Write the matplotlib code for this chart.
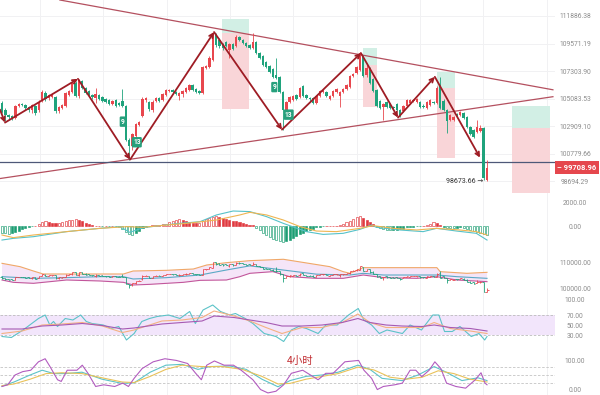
import matplotlib
matplotlib.use("Agg")
import matplotlib.pyplot as plt
import numpy as np
from matplotlib.patches import Rectangle
from matplotlib.ticker import FixedLocator, NullLocator, NullFormatter
import matplotlib.transforms as mtransforms

plt.rcParams["font.family"] = ["Roboto", "DejaVu Sans"]

# ---- 4h candles (price) ----
OPEN = [104750, 104200, 103800, 103730, 103570, 104520, 104670, 104600, 104440, 104200,
        104520, 104200, 104990, 105550, 105150, 105230, 105230, 104120, 104360, 104520,
        105390, 105630, 106350, 105310, 106510, 105950, 105710, 105390, 105150, 105390,
        105230, 105070, 104990, 104670, 104990, 104750, 104910, 104520, 101860, 101390,
        102160, 103020, 103730, 104990, 104830, 104200, 104910, 105150, 104990, 105390,
        105710, 105790, 105630, 105310, 105470, 105630, 105790, 106190, 105870, 105710,
        105550, 107560, 107640, 108210, 110280, 109860, 109530, 109690, 109030, 109530,
        109360, 110110, 109860, 109610, 109450, 109200, 109690, 108780, 108540, 108050,
        107720, 107480, 106990, 106830, 105630, 104200, 104830, 104990, 105390, 105230,
        106110, 105390, 105150, 105150, 104750, 105310, 105630, 105630, 105070, 105310,
        105630, 105310, 105630, 105870, 106030, 106910, 107150, 107400, 108460, 106990,
        107560, 106670, 105790, 104910, 104440, 104830, 104670, 104440, 104670, 104200,
        104120, 104520, 104750, 104910, 104830, 104830, 104520, 104360, 104600, 104830,
        104750, 106190, 104910, 104200, 103410, 103410, 103880, 103800, 103960, 103650,
        102860, 102630, 102470, 102550, 102790, 98810]
CLOSE = [104040, 103800, 103650, 103570, 104520, 104670, 104600, 104360, 104200, 104600,
         103960, 104830, 105630, 105070, 105390, 105470, 104120, 104440, 104600, 105550,
         105710, 106350, 105310, 106590, 105950, 105550, 105390, 105230, 105470, 105070,
         104910, 104830, 104670, 104910, 104520, 104600, 104520, 101860, 101390, 102320,
         103100, 103250, 105070, 105150, 104280, 104830, 105150, 104910, 105470, 105790,
         105790, 105630, 105470, 105550, 105710, 105950, 106190, 105790, 105630, 105550,
         107640, 107720, 108370, 110280, 109450, 109360, 109200, 109360, 109530, 109110,
         110110, 109860, 109610, 109360, 109200, 109690, 108780, 108370, 107800, 107640,
         107230, 106830, 106750, 105630, 104200, 104830, 105230, 105310, 105070, 105950,
         105310, 105150, 105070, 104750, 105310, 105710, 105710, 105310, 105310, 105710,
         105870, 105630, 105870, 106190, 106910, 107070, 107640, 108780, 106910, 107560,
         106350, 105710, 104520, 104360, 104670, 104440, 104360, 104360, 104200, 103800,
         104520, 104990, 104990, 104990, 105070, 104440, 104440, 104830, 104990, 104750,
         105950, 104360, 104200, 103330, 103800, 103650, 103730, 104040, 103570, 102860,
         102320, 102090, 102860, 102790, 98960, 99708.96]
HIGH = [104910, 104360, 103880, 103800, 104600, 104750, 104750, 104670, 104520, 104670,
        104600, 104990, 105790, 105710, 105470, 105550, 105310, 104520, 104670, 105630,
        105790, 106430, 106510, 106670, 106590, 106030, 105790, 105470, 105950, 105470,
        105310, 105150, 105070, 104990, 105070, 104830, 105870, 104600, 102010, 102400,
        103180, 103330, 105230, 105230, 104910, 104990, 105230, 105230, 105550, 105870,
        105870, 105870, 105710, 105630, 105790, 106030, 106270, 106270, 105950, 105790,
        107720, 107800, 108540, 110530, 110450, 110030, 109610, 109780, 109610, 109610,
        110280, 110200, 109940, 109690, 109530, 110450, 109780, 108870, 108620, 108130,
        107800, 107560, 108370, 106910, 105710, 104910, 105310, 105390, 105470, 106030,
        106190, 105470, 105230, 105230, 105390, 105790, 105870, 105710, 105390, 105790,
        105950, 105710, 105950, 106270, 106990, 107150, 107720, 108870, 108620, 107800,
        107640, 106750, 105870, 104990, 104750, 104910, 104750, 104520, 104750, 104280,
        104600, 105070, 105070, 105070, 105150, 104910, 104670, 104910, 105070, 104910,
        106110, 106830, 105070, 104280, 103880, 103730, 103960, 104120, 104040, 103730,
        102940, 102710, 103410, 103020, 102860, 100320]
LOW = [103960, 103330, 103490, 103410, 103490, 104440, 104520, 104200, 104040, 103960,
       103800, 104040, 104830, 104910, 104990, 105150, 103960, 103960, 104280, 104440,
       105310, 105550, 105230, 105150, 105870, 105470, 105310, 105070, 104750, 104990,
       104830, 104750, 104600, 104600, 104440, 104520, 104440, 101780, 100320, 101090,
       101780, 102940, 103650, 104830, 104120, 104040, 104830, 104830, 104910, 105310,
       105630, 105550, 105390, 104990, 105230, 105550, 105710, 105710, 105550, 105470,
       105470, 107480, 107560, 108130, 109280, 109200, 109030, 109280, 108370, 109030,
       109280, 109780, 109530, 109280, 109110, 109110, 108700, 108290, 107720, 107560,
       107150, 106750, 106670, 105550, 102630, 104120, 104750, 104910, 104990, 105150,
       105230, 105070, 104910, 104670, 104670, 105230, 105550, 105230, 104990, 105230,
       105550, 104440, 105550, 105790, 105950, 106830, 107070, 107310, 106830, 106830,
       106270, 105630, 104440, 104280, 103410, 104360, 104280, 104280, 104120, 103650,
       104040, 104440, 104670, 104830, 104750, 104360, 104360, 104280, 104520, 104670,
       104670, 104280, 104120, 102400, 103330, 103330, 103650, 103730, 103490, 102790,
       102240, 102010, 102400, 102470, 98810, 98673.66]

PRICE_TICKS = [111886.38, 109571.19, 107303.90, 105083.53, 102909.10, 100779.66, 98694.29]
LAST_PRICE = 99708.96
H_LINE = 100170

# zigzag wave drawing (bar index, price)
ZIG_X = [-0.6, 0.9, 22.7, 38.3, 63.4, 83.7, 107.3, 118.4, 129.4, 142.9]
ZIG_P = [104200, 103180, 106670, 100320, 110530, 102630, 108780, 103570, 106830, 100470]

# triangle trend lines
TREND_UP_X = [17.3, 164.7]
TREND_UP_P = [113255, 105785]
TREND_LO_X = [-0.6, 164.7]
TREND_LO_P = [98885, 105230]

# long-position boxes: start, end, target, entry, stop
BOX_X0 = [65.8, 107.9, 130.0, 152.5]
BOX_X1 = [73.8, 112.1, 135.4, 163.8]
BOX_TP = [111634, 109200, 107230, 104520]
BOX_EN = [110450, 107800, 105950, 102790]
BOX_SL = [104280, 104440, 100470, 97830]

# TD sequential counts
TD_X = [36.1, 40.3, 81.4, 85.7]
TD_P = [103254, 101650, 106000, 103805]
TD_TXT = ["9", "13", "9", "13"]

# ---- MACD ----
MACD_HIST = [-550, -600, -640, -560, -470, -380, -280, -150, -80, -30,
             30, 150, 300, 420, 330, 250, 220, 260, 330, 400,
             470, 520, 550, 480, 380, 280, 180, 90, 30, 10,
             -10, 10, -20, 10, -30, -80, -250, -500, -700, -750,
             -600, -420, -200, -50, 40, 60, 80, 120, 150, 200,
             320, 430, 520, 550, 480, 400, 320, 260, 250, 280,
             400, 580, 700, 780, 800, 740, 650, 580, 520, 450,
             380, 300, 230, 180, 120, 60, -150, -350, -550, -750,
             -900, -1050, -1150, -1250, -1300, -1280, -1150, -1000, -850, -700,
             -560, -430, -320, -220, -120, -50, -20, 10, 30, 20,
             40, 80, 150, 300, 450, 600, 720, 800, 650, 500,
             350, 150, -100, -200, -250, -300, -330, -330, -300, -280,
             -250, -120, -80, -60, -40, -20, 30, 80, 150, 300,
             250, 100, -80, -150, -180, -200, -150, -120, -150, -220,
             -300, -400, -500, -600, -700, -750]
DIF_X = [0, 3.4, 9.4, 19.3, 29.3, 35.3, 38.2, 42.2, 47.2, 53.2, 59.2, 64.1, 69.1, 74.1,
         79.1, 84.1, 91, 96, 102, 107, 110.5, 111.9, 118.9, 125.9, 129.9, 135.9, 141.8, 145]
DIF_V = [-1170, -1030, -890, -470, -195, -55, -530, -140, 30, 220, 360, 920, 1250, 1200,
         780, 220, -470, -700, -610, -280, 80, -110, -330, -470, -195, -420, -610, -1170]
DEA_X = [0, 3.4, 9.4, 19.3, 29.3, 37.3, 42.2, 49.2, 55.2, 64.1, 71.1, 74.1, 79.1, 84.1,
         89.1, 94, 100, 107, 111, 117, 124, 129.9, 136.8, 141.8, 145]
DEA_V = [-750, -970, -750, -470, -195, -55, -110, 80, 220, 500, 920, 1140, 920, 500,
         -55, -420, -470, -195, 30, -195, -330, -195, -330, -470, -750]

# ---- Bollinger ----
BB_UP_X = [0, 5.4, 9.4, 12.3, 36.3, 39.2, 49.2, 57.2, 61.2, 67.1, 74.1, 84.1, 98, 102,
           104, 108, 130, 131, 139, 145]
BB_UP_V = [109870, 108590, 106920, 105770, 105770, 106920, 107180, 107690, 109230, 110130,
           110900, 111430, 108590, 106670, 106030, 108210, 108210, 106670, 106030, 106410]
BB_MID_X = [0, 9.4, 19.3, 29.3, 36.3, 39.2, 49.2, 59.2, 67.1, 74.1, 84, 94, 104, 108,
            114, 124, 130, 136, 145]
BB_MID_V = [104740, 104100, 104360, 104740, 104740, 103850, 104360, 105380, 107310, 108900,
            107310, 105700, 105380, 106030, 105380, 105380, 105380, 104740, 104100]
BB_LO_X = [0, 3.4, 9.4, 19.3, 29.3, 36.3, 39.2, 44.2, 54.2, 59.2, 67.1, 71.1, 74.1, 81,
           86, 94, 102, 108, 114, 124, 130, 136, 145]
BB_LO_V = [103460, 102560, 102180, 103460, 103080, 102560, 101540, 101790, 102560, 103330,
           103460, 104740, 106030, 106670, 104740, 104100, 104100, 105380, 104360, 104100,
           104740, 103460, 102820]

# ---- RSI ----
RSI6_X = [0, 2.8, 6.3, 10.9, 12.9, 14.3, 15.4, 16.6, 18.9, 21.2, 23.5, 25.2, 26.9, 30.3,
          32.6, 34.9, 37.2, 39.5, 41.8, 44.1, 46.4, 49.8, 53.2, 56.1, 57.8, 60.1, 63, 65.3,
          68.1, 69.8, 72.7, 75, 78.4, 81.9, 84.2, 86.5, 88.7, 91, 94.5, 96.8, 100.2, 103.6,
          106.5, 108.2, 110.5, 112.8, 115.1, 119.7, 122, 125.4, 128.8, 130.6, 132.3, 134.6,
          136.9, 140.3, 142.6, 144.3, 145]
RSI6_V = [27, 25, 40, 63, 70, 50, 57, 47, 63, 60, 70, 57, 53, 50, 43, 47, 20, 33, 57, 63,
          67, 70, 63, 77, 53, 80, 90, 77, 70, 73, 63, 53, 33, 27, 17, 40, 47, 43, 33, 50,
          50, 70, 83, 60, 50, 33, 40, 33, 50, 40, 70, 70, 37, 37, 47, 27, 33, 20, 27]
RSI12_X = [0, 6, 12, 18, 24, 30, 36, 39.5, 47.8, 53.8, 59.8, 63.4, 69.4, 74.1, 78.9, 83.7,
           89.7, 95.7, 101.7, 106.4, 110, 114.8, 119.6, 125.6, 129.2, 134, 140, 145]
RSI12_V = [33, 38, 50, 52, 55, 48, 35, 40, 58, 60, 65, 78, 68, 58, 45, 33, 45, 45, 55, 72,
           55, 45, 45, 45, 55, 43, 38, 33]
RSI24_V = [42, 42, 48, 50, 53, 49, 42, 44, 52, 55, 58, 68, 65, 60, 55, 48, 48, 50, 55, 63,
           55, 50, 48, 47, 50, 45, 43, 38]

# ---- KDJ ----
KDJ_J_X = [0, 1.7, 3.9, 6.2, 8.6, 10.9, 12.9, 14.4, 16.6, 17.7, 19.5, 22.4, 24, 25.7, 28,
           30.4, 33.7, 36.1, 37.8, 39.5, 41.9, 45.2, 48.7, 52.1, 55.5, 57.9, 59.6, 61.2,
           63.5, 66.4, 69.2, 71.5, 75, 77.3, 79.5, 81.9, 84.2, 86.5, 89.9, 92.2, 94.5, 96.8,
           99, 102.5, 106.6, 108.2, 110.5, 112.2, 114, 117.4, 119.7, 122, 123.7, 125.5,
           127.7, 129.4, 131.2, 132.9, 135.7, 138.6, 141.5, 143.2, 144.4, 145]
KDJ_J_V = [9, 15, 50, 62, 67, 97, 108, 79, 33, 27, 67, 67, 85, 56, 9, 15, 9, 21, 9, 38,
           73, 97, 108, 102, 91, 56, 33, 85, 100, 85, 85, 67, 33, -2, -14, -8, 15, 56, 67, 50,
           33, 56, 56, 97, 102, 67, 38, -2, 9, 15, 21, 67, 67, 44, 67, 97, 73, 21, 9, 3,
           33, 58, 21, 15]
KDJ_K_X = [0, 3.6, 8.4, 12, 15.5, 19.1, 23.9, 29.9, 35.9, 39.5, 44.3, 49, 53.8, 58.6, 62.2,
           68.2, 73, 77.7, 82.5, 86.1, 90.9, 95.7, 100.5, 106.4, 110, 113.6, 119.6, 124.4,
           129.2, 132.8, 137.5, 142.3, 145]
KDJ_K_V = [10, 25, 50, 67, 55, 55, 60, 35, 20, 22, 60, 85, 88, 70, 80, 82, 70, 35, 8, 30,
           45, 50, 60, 85, 70, 38, 30, 50, 80, 60, 30, 40, 30]
KDJ_D_X = [0, 3.6, 8.4, 13.2, 17.9, 23.9, 29.9, 35.9, 39.5, 44.3, 49, 53.8, 59.8, 65.8, 71.8,
           77.7, 82.5, 86.1, 90.9, 95.7, 100.5, 106.4, 111.2, 116, 120.8, 125.6, 130.4,
           135.1, 139.9, 145]
KDJ_D_V = [12, 18, 35, 55, 58, 55, 40, 25, 23, 45, 70, 85, 80, 80, 70, 45, 18, 20, 35, 45,
           55, 78, 68, 42, 35, 42, 65, 55, 35, 25]

UP_C = "#e8474e"
DN_C = "#1fa37c"
GRID_C = "#f1f1f3"
LABEL_C = "#8c8c8c"

W, H = 600, 395
STEP = 3.345                        # px per bar
XLIM = (-2 / STEP, 553 / STEP)
GRID_X = np.arange(11.4, XLIM[1], 18.93)

fig = plt.figure(figsize=(6, 3.95), dpi=100)


def add_panel(top, bottom):
    ax = fig.add_axes([0, 1 - bottom / H, 555 / W, (bottom - top) / H])
    ax.set_xlim(*XLIM)
    ax.set_xticks([])
    for s in ax.spines.values():
        s.set_visible(False)
    for gx in GRID_X:
        ax.axvline(gx, color=GRID_C, lw=0.7, zorder=0)
    return ax


def right_labels(ax, values, labels):
    ax.yaxis.tick_right()
    ax.yaxis.set_major_locator(FixedLocator(values))
    ax.yaxis.set_minor_locator(NullLocator())
    ax.yaxis.set_minor_formatter(NullFormatter())
    ax.set_yticklabels(labels)
    ax.tick_params(axis="y", length=0, pad=14.5, labelsize=4.9, labelcolor=LABEL_C)
    for t in ax.get_yticklabels():
        t.set_ha("center")


x = np.arange(len(CLOSE))
o = np.array(OPEN, dtype=float)
c = np.array(CLOSE, dtype=float)
hi = np.array(HIGH, dtype=float)
lo = np.array(LOW, dtype=float)
colors = [UP_C if cc >= oo else DN_C for oo, cc in zip(o, c)]

# ---- main price panel ----
ax = add_panel(0, 197)
ax.set_yscale("log")
ax.set_ylim(97507, 113255)
for p in PRICE_TICKS:
    ax.axhline(p, color=GRID_C, lw=0.7, zorder=0)
right_labels(ax, PRICE_TICKS, [f"{p:.2f}" for p in PRICE_TICKS])

for x0, x1, tp, en, sl in zip(BOX_X0, BOX_X1, BOX_TP, BOX_EN, BOX_SL):
    ax.add_patch(Rectangle((x0, en), x1 - x0, tp - en, fc="#d2efe5", ec="none", zorder=1))
    ax.add_patch(Rectangle((x0, sl), x1 - x0, en - sl, fc="#f9d5d8", ec="none", zorder=1))

ax.plot(TREND_UP_X, TREND_UP_P, color="#b4505f", lw=0.9, zorder=2)
ax.plot(TREND_LO_X, TREND_LO_P, color="#b4505f", lw=0.9, zorder=2)
ax.axhline(H_LINE, color="#4e5878", lw=0.9, zorder=2)

ax.vlines(x, lo, hi, colors=colors, lw=0.6, zorder=3)
body_lo = np.minimum(o, c)
body_h = np.maximum(np.abs(c - o), 30)
ax.bar(x, body_h, bottom=body_lo, width=0.72, color=colors, zorder=3)

for k in range(len(ZIG_X) - 1):
    ax.annotate("", xy=(ZIG_X[k + 1], ZIG_P[k + 1]), xytext=(ZIG_X[k], ZIG_P[k]),
                arrowprops=dict(arrowstyle="->", color="#9e1c24", lw=1.3,
                                mutation_scale=7, shrinkA=0, shrinkB=0),
                zorder=4)

for tx, tp, txt in zip(TD_X, TD_P, TD_TXT):
    ax.text(tx, tp, txt, fontsize=4.8, color="white", ha="center", va="center",
            fontweight="bold", zorder=5,
            bbox=dict(boxstyle="round,pad=0.18", fc="#27a07c", ec="none"))

ax.text(x[-1] - 1.2, lo[-1], f"{lo[-1]:.2f} →", fontsize=5, color="#333333",
        ha="right", va="center", zorder=5)

trans = mtransforms.blended_transform_factory(ax.transAxes, ax.transData)
ax.text(1.0 + 2 / 555, LAST_PRICE, "– " + f"{LAST_PRICE:.2f}", transform=trans,
        fontsize=5.4, color="white", fontweight="bold", ha="left", va="center",
        zorder=6, clip_on=False,
        bbox=dict(boxstyle="square,pad=0.3", fc="#e5474d", ec="none"))

# ---- MACD ----
ax_m = add_panel(197, 250)
ax_m.set_ylim(-2000, 2417)
right_labels(ax_m, [2000, 0], ["2000.00", "0.00"])
hist = np.array(MACD_HIST, dtype=float)
prev = np.r_[0.0, hist[:-1]]
for xi, hv, pv in zip(x, hist, prev):
    col = "#e0393f" if hv >= 0 else "#1e9e74"
    hollow = abs(hv) > abs(pv)
    h = hv if abs(hv) > 15 else (15 if hv >= 0 else -15)
    ax_m.bar(xi, h, width=0.62, bottom=0, fc="white" if hollow else col,
             ec=col, lw=0.45, zorder=2)
ax_m.plot(DIF_X, DIF_V, color="#56c2c9", lw=0.8, zorder=3)
ax_m.plot(DEA_X, DEA_V, color="#efb552", lw=0.8, zorder=3)

# ---- Bollinger ----
ax_b = add_panel(250, 295)
ax_b.set_ylim(97690, 115000)
right_labels(ax_b, [110000, 100000], ["110000.00", "100000.00"])
ax_b.fill(np.r_[BB_UP_X, BB_LO_X[::-1]], np.r_[BB_UP_V, BB_LO_V[::-1]],
          color="#f5e5f8", lw=0, zorder=1)
ax_b.plot(BB_UP_X, BB_UP_V, color="#f0a868", lw=0.8, zorder=2)
ax_b.plot(BB_MID_X, BB_MID_V, color="#5aa9c6", lw=0.8, zorder=2)
ax_b.plot(BB_LO_X, BB_LO_V, color="#c2569b", lw=0.8, zorder=2)
ax_b.vlines(x, lo, hi, colors=colors, lw=0.6, zorder=3)
ax_b.hlines(c, x, x + 0.5, colors=colors, lw=0.6, zorder=3)
ax_b.hlines(o, x - 0.5, x, colors=colors, lw=0.6, zorder=3)

# ---- RSI ----
ax_r = add_panel(295, 345)
ax_r.set_ylim(10, 110)
right_labels(ax_r, [100, 70, 50, 30], ["100.00", "70.00", "50.00", "30.00"])
ax_r.axhspan(30, 70, color="#f2e5fb", lw=0, zorder=0)
for lv in (30, 70):
    ax_r.axhline(lv, color="#bcbcbc", lw=0.6, ls=(0, (3, 2)), zorder=1)
ax_r.plot(RSI6_X, RSI6_V, color="#5cc3c8", lw=0.8, zorder=3)
ax_r.plot(RSI12_X, RSI12_V, color="#f4b182", lw=0.8, zorder=3)
ax_r.plot(RSI12_X, RSI24_V, color="#a65ab3", lw=0.8, zorder=3)

# ---- KDJ ----
ax_k = add_panel(345, 395)
ax_k.set_ylim(-21.4, 157)
right_labels(ax_k, [100, 0], ["100.00", "0.00"])
for lv in (80, 50, 20):
    ax_k.axhline(lv, color="#c4c4c4", lw=0.6, ls=(0, (3, 2)), zorder=1)
ax_k.plot(KDJ_K_X, KDJ_K_V, color="#5cc3c8", lw=0.8, zorder=3)
ax_k.plot(KDJ_D_X, KDJ_D_V, color="#e9c25a", lw=0.8, zorder=3)
ax_k.plot(KDJ_J_X, KDJ_J_V, color="#b25cbf", lw=0.8, zorder=3)

fig.text(300 / W, 1 - 361 / H, "4小时", fontsize=7.5, color="#c0282d",
         ha="center", va="center", family=["Noto Sans CJK SC", "DejaVu Sans"])

fig.savefig("out.png", dpi=100)
